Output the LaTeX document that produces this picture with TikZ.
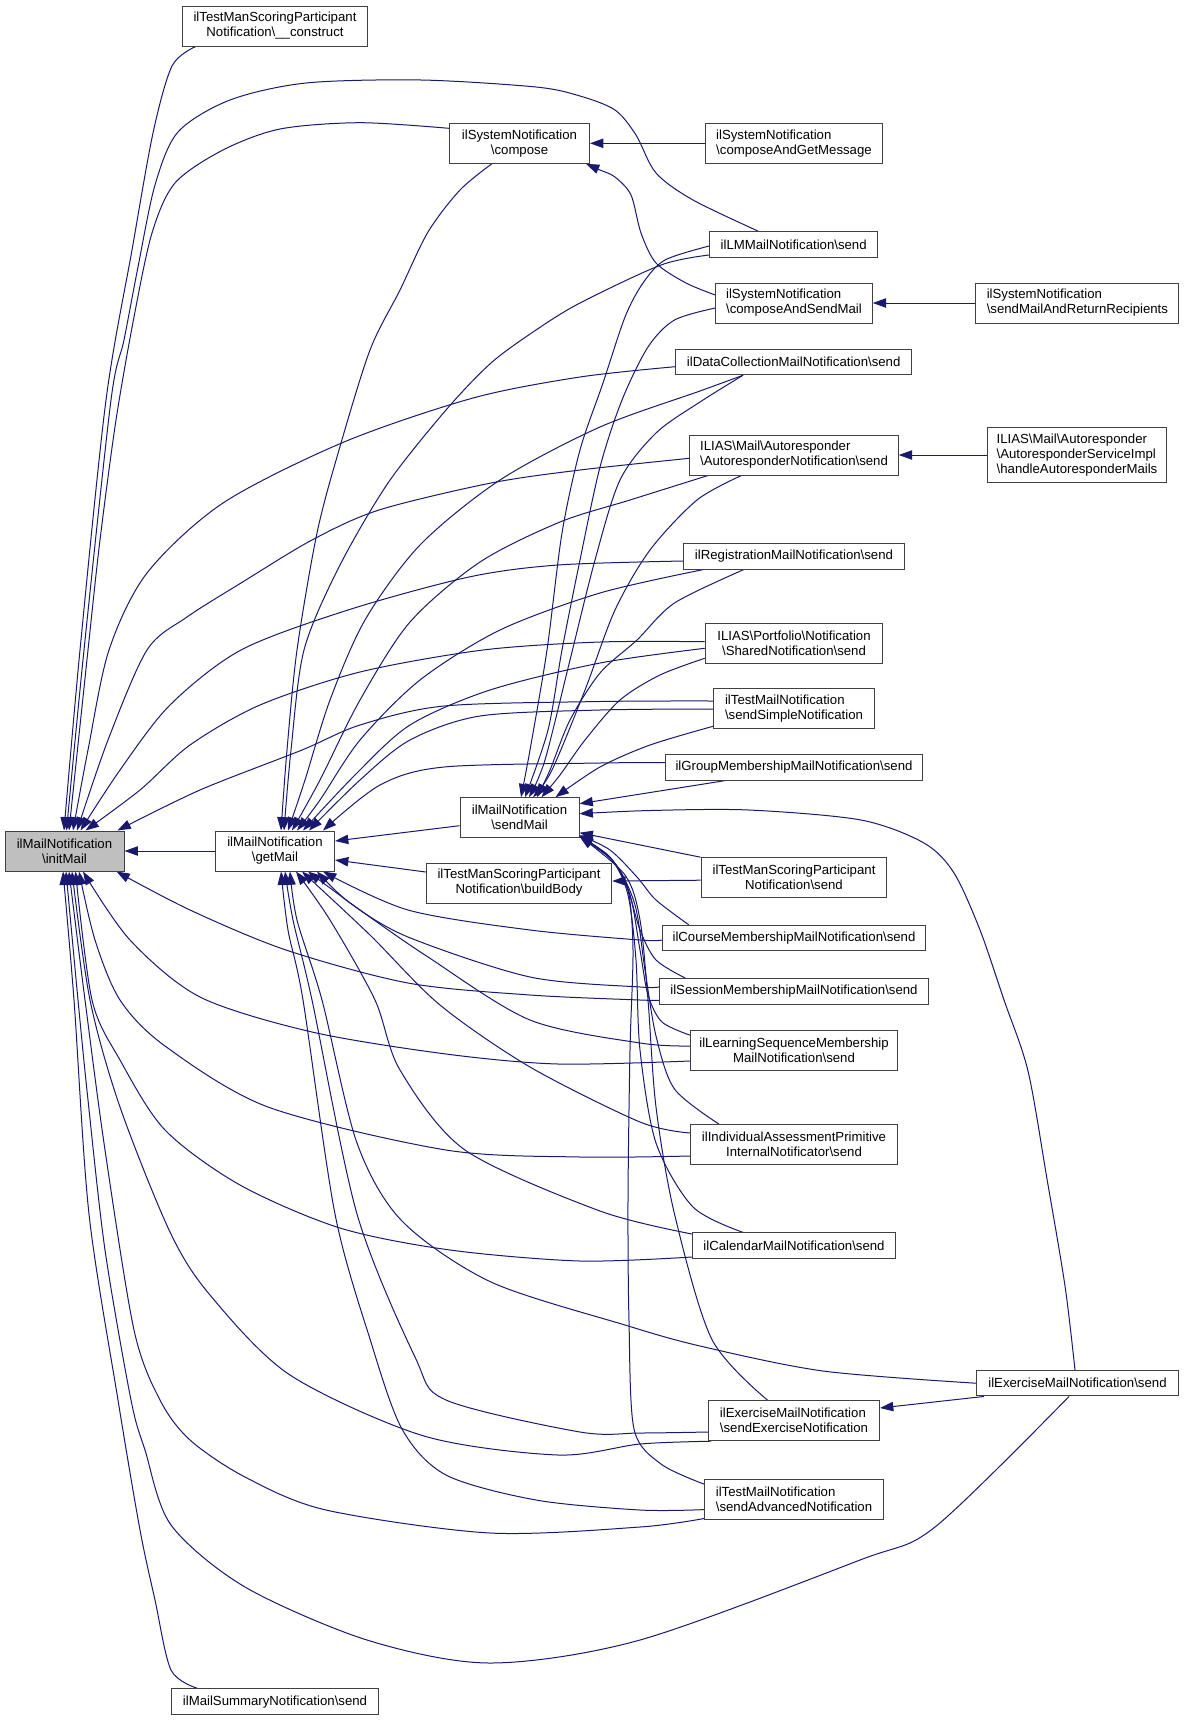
\documentclass[tikz,border=0pt]{standalone}
\usepackage{fontspec}
\setmainfont{Liberation Sans}
\usetikzlibrary{arrows.meta,calc,backgrounds}
\definecolor{edgecol}{HTML}{191970}
\definecolor{boxcol}{HTML}{404040}
\definecolor{rootfill}{HTML}{BFBFBF}
\newcommand{\bsl}{\textbackslash}
\newcommand{\nfont}{\fontsize{9.9pt}{11.25pt}\selectfont}
\begin{document}
\begin{tikzpicture}[x=0.75pt,y=-0.75pt,
  box/.style={draw=boxcol,line width=0.75pt,fill=white,inner sep=0pt,font=\nfont,align=center},
  lbox/.style={box,align=left},
  bw/.style={minimum width=#1*0.75pt},
  bh/.style={minimum height=#1*0.75pt},
  conn/.style={draw=edgecol,line width=0.75pt,-{Triangle[length=10pt,width=7pt]}},
  sm/.style={smooth,tension=0.5}]
\useasboundingbox (0,0) rectangle (1184,1721);
% nodes
\node[box,bw=119,bh=40,fill=rootfill] (init) at (64.5,851) {ilMailNotification\\\bsl initMail};
\node[box,bw=119,bh=40] (getm) at (275,851) {ilMailNotification\\\bsl getMail};
\node[box,bw=119,bh=40] (sendm) at (519.5,817.7) {ilMailNotification\\\bsl sendMail};
\node[box,bw=185.5,bh=40] (build) at (519,883) {ilTestManScoringParticipant\\Notification\bsl buildBody};
\node[box,bw=185.5,bh=40] (cons) at (275,26) {ilTestManScoringParticipant\\Notification\bsl\_\_construct};
\node[box,bw=140,bh=40] (comp) at (519.5,143.3) {ilSystemNotification\\\bsl compose};
\node[lbox,bw=176.5,bh=40] (cagm) at (794,143.3) {ilSystemNotification\\\bsl composeAndGetMessage};
\node[box,bw=168,bh=25.5] (lm) at (793.7,244.3) {ilLMMailNotification\bsl send};
\node[lbox,bw=156.5,bh=40] (casm) at (794,303) {ilSystemNotification\\\bsl composeAndSendMail};
\node[lbox,bw=203,bh=40] (smarr) at (1077.4,303) {ilSystemNotification\\\bsl sendMailAndReturnRecipients};
\node[box,bw=236,bh=25.5] (dc) at (793.7,362) {ilDataCollectionMailNotification\bsl send};
\node[lbox,bw=208.5,bh=40] (arn) at (794,455) {ILIAS\bsl Mail\bsl Autoresponder\\\bsl AutoresponderNotification\bsl send};
\node[lbox,bw=179,bh=54.6] (asi) at (1077,455) {ILIAS\bsl Mail\bsl Autoresponder\\\bsl AutoresponderServiceImpl\\\bsl handleAutoresponderMails};
\node[box,bw=220.5,bh=25.5] (reg) at (794,556.5) {ilRegistrationMailNotification\bsl send};
\node[box,bw=177.6,bh=40] (port) at (794,643) {ILIAS\bsl Portfolio\bsl Notification\\\bsl SharedNotification\bsl send};
\node[lbox,bw=160.4,bh=40] (tsimple) at (794,708.7) {ilTestMailNotification\\\bsl sendSimpleNotification};
\node[box,bw=256.5,bh=25.5] (grp) at (794,767.5) {ilGroupMembershipMailNotification\bsl send};
\node[box,bw=185.8,bh=40] (tmsend) at (794,877.7) {ilTestManScoringParticipant\\Notification\bsl send};
\node[box,bw=263.5,bh=25.5] (course) at (794,938) {ilCourseMembershipMailNotification\bsl send};
\node[box,bw=268.4,bh=25.5] (sess) at (794,991.3) {ilSessionMembershipMailNotification\bsl send};
\node[box,bw=206.7,bh=40] (lsm) at (794,1050) {ilLearningSequenceMembership\\MailNotification\bsl send};
\node[box,bw=206.7,bh=40] (ia) at (794,1144.6) {ilIndividualAssessmentPrimitive\\InternalNotificator\bsl send};
\node[box,bw=203,bh=25.5] (cal) at (794,1245.7) {ilCalendarMailNotification\bsl send};
\node[box,bw=202,bh=25.5] (exs) at (1077.5,1383.2) {ilExerciseMailNotification\bsl send};
\node[lbox,bw=171,bh=40] (exn) at (794,1420.7) {ilExerciseMailNotification\\\bsl sendExerciseNotification};
\node[lbox,bw=179,bh=40] (adv) at (794,1499) {ilTestMailNotification\\\bsl sendAdvancedNotification};
\node[box,bw=207.4,bh=25.5] (summ) at (275,1701.7) {ilMailSummaryNotification\bsl send};
% edges
\begin{scope}[on background layer]
\fill[white] (0,0) rectangle (1184,1721);
\draw[conn] (getm.west) -- (init.east);
\draw[conn] (cagm.west) -- (comp.east);
\draw[conn] (smarr.west) -- (casm.east);
\draw[conn] (asi.west) -- (arn.east);
\draw[conn] ($(sendm.west)+(0,8)$) -- ($(getm.east)+(0,-10)$);
\draw[conn] ($(build.west)+(0,-11)$) -- ($(getm.east)+(0,9)$);
\draw[conn] ($(tmsend.west)+(0,2.5)$) -- ($(build.east)+(0,-2)$);
\draw[conn] (tmsend.north west) -- ($(sendm.east)+(0,15)$);
\draw[conn] ($(grp.south west)+(59,0)$) -- ($(sendm.east)+(0,-14)$);
\draw[conn] ($(exs.south west)+(8,0)$) -- ($(exn.east)+(0,-12.7)$);
% to initMail from above
\draw[conn] plot[sm] coordinates {($(cons.south west)+(14,0)$) (172,66) (153,133) (132,250) (106,400) (80,650) ($(init.north)+(-0.5,0)$)};
\draw[conn] plot[sm] coordinates {($(lm.north)+(-35.7,0)$) (693,200) (656,173) (636,135) (615,110) (580,96) (536,87) (421,80) (306,83) (230,100) (178,132) (155,185) (138,267) (124,340) (111,400) (84,650) ($(init.north)+(2,0)$)};
\draw[conn] plot[sm] coordinates {($(comp.west)+(0,-15)$) (360,122.7) (280,129) (223,150) (175,183) (152,233) (134,317) (116,420) (100,540) (88,650) ($(init.north)+(4.5,0)$)};
\draw[conn] plot[sm] coordinates {($(dc.west)+(0,4.7)$) (580,377) (473,398) (344,442) (223,503) (147,573) (109,650) (88,750) ($(init.north)+(8.5,0)$)};
\draw[conn] plot[sm] coordinates {($(arn.west)+(0,3.3)$) (580,470) (491,483) (379,510) (312,540) (241,583) (187,617) (147,650) (108,740) ($(init.north)+(12.5,0)$)};
\draw[conn] plot[sm] coordinates {($(reg.west)+(0,4.5)$) (558,565) (469,577) (348,610) (241,650) (170,705) (120,770) ($(init.north)+(16,0)$)};
\draw[conn] plot[sm] coordinates {($(port.west)+(0,-1.3)$) (600,642) (483,650) (360,672) (260,705) (190,745) (140,790) ($(init.north)+(21,0)$)};
\draw[conn] plot[sm] coordinates {($(tsimple.west)+(0,-7.7)$) (600,701.5) (444,706) (360,725) (302,750) (200,790) ($(init.north east)+(-7,0)$)};
% to getMail from above
\draw[conn] plot[sm] coordinates {($(comp.south)+(-27.7,0)$) (460,190) (428,232) (400,290) (370,350) (339,450) (317,533) (297,650) (287,750) ($(getm.north)+(6,0)$)};
\draw[conn] plot[sm] coordinates {($(lm.west)+(0,10.7)$) (661,265) (580,303) (536,330) (491,363) (446,410) (388,483) (339,567) (304,650) (291,750) ($(getm.north)+(9,0)$)};
\draw[conn] plot[sm] coordinates {($(dc.south)+(-50.7,0)$) (700,391) (600,427) (500,480) (420,545) (365,620) (330,700) (305,780) ($(getm.north)+(13,0)$)};
\draw[conn] plot[sm] coordinates {($(arn.south)+(-86,0)$) (630,500) (560,522) (480,562) (410,622) (360,700) (320,780) ($(getm.north)+(17,0)$)};
\draw[conn] plot[sm] coordinates {($(reg.south)+(-91.6,0)$) (600,593) (500,630) (420,680) (360,740) (320,800) ($(getm.north)+(22,0)$)};
\draw[conn] plot[sm] coordinates {($(port.west)+(0,5.3)$) (600,663) (490,690) (410,725) (355,775) ($(getm.north)+(28,0)$)};
\draw[conn] plot[sm] coordinates {($(tsimple.west)+(0,0.3)$) (600,710) (480,716) (410,740) (360,780) ($(getm.north)+(34,0)$)};
\draw[conn] plot[sm] coordinates {($(grp.west)+(0,-4.8)$) (600,763) (444,767) (380,785) ($(getm.north east)+(-12,0)$)};
% compose
\draw[conn] plot[sm] coordinates {($(casm.west)+(0,-8)$) (686,283) (656,263) (641,233) (631,195) (615,177) (600,170) ($(comp.south east)+(-4,0)$)};
% to sendMail from above
\draw[conn] plot[sm] coordinates {($(lm.west)+(0,1.7)$) (665,260) (643,283) (625,317) (603,383) (580,450) (562,533) (547,650) (530,750) ($(sendm.north)+(1.5,0)$)};
\draw[conn] plot[sm] coordinates {($(casm.west)+(0,5)$) (674.5,320) (648,347) (622,400) (600,467) (580,560) (562,650) (548,730) ($(sendm.north)+(5.5,0)$)};
\draw[conn] plot[sm] coordinates {($(dc.south)+(-50.7,0)$) (700,402) (656,433) (620,480) (595,560) (570,660) (545,760) ($(sendm.north)+(9.5,0)$)};
\draw[conn] plot[sm] coordinates {($(arn.south)+(-52.5,0)$) (697,500) (650,550) (615,610) (585,690) (552,770) ($(sendm.north)+(13.5,0)$)};
\draw[conn] plot[sm] coordinates {($(reg.south)+(-50.6,0)$) (674.5,603) (637,640) (600,673) (570,720) (550,770) ($(sendm.north)+(17.5,0)$)};
\draw[conn] plot[sm] coordinates {($(port.west)+(0,15.3)$) (660,675) (620,700) (585,740) (560,775) ($(sendm.north)+(22,0)$)};
\draw[conn] plot[sm] coordinates {($(tsimple.south west)+(0,-3)$) (650,745) (600,767) ($(sendm.north east)+(-24,0)$)};
\draw[conn] plot[sm] coordinates {($(exs.north)+(-2.5,0)$) (1065,1286) (1047,1179) (1028,1071) (1004,1000) (980,930) (954,873) (924,843) (861,820) (749,810) (650,810.5) ($(sendm.east)+(0,-4)$)};
% lower column to sendMail
\draw[conn] plot[sm] coordinates {($(course.north west)+(27,0)$) (656,900) (637,877) (610,850) ($(sendm.south east)+(0,-3)$)};
\draw[conn] plot[sm] coordinates {($(sess.north west)+(26,0)$) (656,960) (640,930) (628,890) (610,857) ($(sendm.south east)+(0,-2)$)};
\draw[conn] plot[sm] coordinates {($(lsm.north west)+(0,5.7)$) (662,1022) (648,995) (640,950) (630,895) (612,860) ($(sendm.south east)+(0,-2)$)};
\draw[conn] plot[sm] coordinates {($(ia.north)+(-75,0)$) (674.5,1089) (656,1036) (645,970) (635,905) (614,862) ($(sendm.south east)+(0,-2)$)};
\draw[conn] plot[sm] coordinates {($(cal.north)+(-50.6,0)$) (693,1207) (656,1143) (640,1050) (636,960) (628,895) (612,860) ($(sendm.south east)+(0,-2)$)};
\draw[conn] plot[sm] coordinates {($(exn.north)+(-26.4,0)$) (711.7,1339) (674.5,1214) (656,1107) (648,1000) (640,920) (625,875) ($(sendm.south east)+(0,-2)$)};
\draw[conn] plot[sm] coordinates {($(adv.north west)+(0,5.6)$) (661,1464) (634,1429) (629,1321) (628,1200) (630,1050) (633,950) (628,890) (612,860) ($(sendm.south east)+(0,-2)$)};
% lower column to getMail
\draw[conn] plot[sm] coordinates {($(course.west)+(0,2)$) (640,940) (530,930) (408,910) ($(getm.south east)+(-12,0)$)};
\draw[conn] plot[sm] coordinates {($(sess.west)+(0,-4.6)$) (640,987) (530,977) (408,937) (350,903) ($(getm.south east)+(-18,0)$)};
\draw[conn] plot[sm] coordinates {($(lsm.west)+(0,-4)$) (640,1043) (530,1020) (428,957) (360,910) ($(getm.south)+(33,0)$)};
\draw[conn] plot[sm] coordinates {($(ia.west)+(0,-11.6)$) (640,1122) (530,1067) (440,1005) (370,935) ($(getm.south)+(27,0)$)};
\draw[conn] plot[sm] coordinates {($(cal.west)+(0,-11.7)$) (600,1211) (465,1150) (400,1070) (375,1000) (330,920) ($(getm.south)+(21,0)$)};
\draw[conn] plot[sm] coordinates {(exs.west) (823,1371) (700,1346) (625,1325) (491,1282) (402,1221) (357,1143) (322,1000) (297,920) ($(getm.south)+(15,0)$)};
\draw[conn] plot[sm] coordinates {($(exn.west)+(0,11.3)$) (640,1433) (580,1432) (446,1400) (415,1357) (357,1214) (312,1000) (293,920) ($(getm.south)+(10,0)$)};
\draw[conn] plot[sm] coordinates {($(adv.west)+(0,10.6)$) (640,1510) (536,1500) (446,1475) (402,1429) (370,1339) (335,1214) (303,1000) (288,930) ($(getm.south)+(6,0)$)};
% lower column to initMail
\draw[conn] plot[sm] coordinates {($(sess.west)+(0,9)$) (640,1000) (530,995) (408,983) (286,950) (190,910) ($(init.south east)+(-8,0)$)};
\draw[conn] plot[sm] coordinates {($(lsm.west)+(0,11)$) (558,1064) (446,1054) (312,1032) (200,997) (130,940) ($(init.south)+(18.5,0)$)};
\draw[conn] plot[sm] coordinates {($(ia.west)+(0,11.4)$) (580,1157) (446,1150) (268,1107) (165,1046) (120,1000) (95,940) ($(init.south)+(14.5,0)$)};
\draw[conn] plot[sm] coordinates {($(cal.west)+(0,11.3)$) (580,1261) (450,1250) (340,1228) (240,1185) (165,1130) (120,1060) (92,1000) ($(init.south)+(11,0)$)};
\draw[conn] plot[sm] coordinates {($(exn.south west)+(3,0)$) (640,1444) (558,1455) (424,1436) (290,1375) (210,1295) (170,1232) (120,1107) (90,1000) ($(init.south)+(7.5,0)$)};
\draw[conn] plot[sm] coordinates {($(adv.south west)+(0,-1)$) (640,1527) (490,1533) (326,1510) (245,1477) (190,1440) (160,1400) (134,1330) (105,1150) (85,1000) ($(init.south)+(4.5,0)$)};
\draw[conn] plot[sm] coordinates {($(exs.south)+(-8.5,0)$) (935,1527) (860,1560) (640,1640) (490,1663) (367,1640) (245,1587) (171,1525) (145,1450) (131,1400) (105,1250) (88,1100) (78,1000) ($(init.south)+(1.5,0)$)};
\draw[conn] plot[sm] coordinates {($(summ.north west)+(27,0)$) (171,1670) (155,1600) (140,1530) (118,1400) (89,1214) (74,1000) ($(init.south)+(-1.5,0)$)};
\end{scope}
\end{tikzpicture}
\end{document}
